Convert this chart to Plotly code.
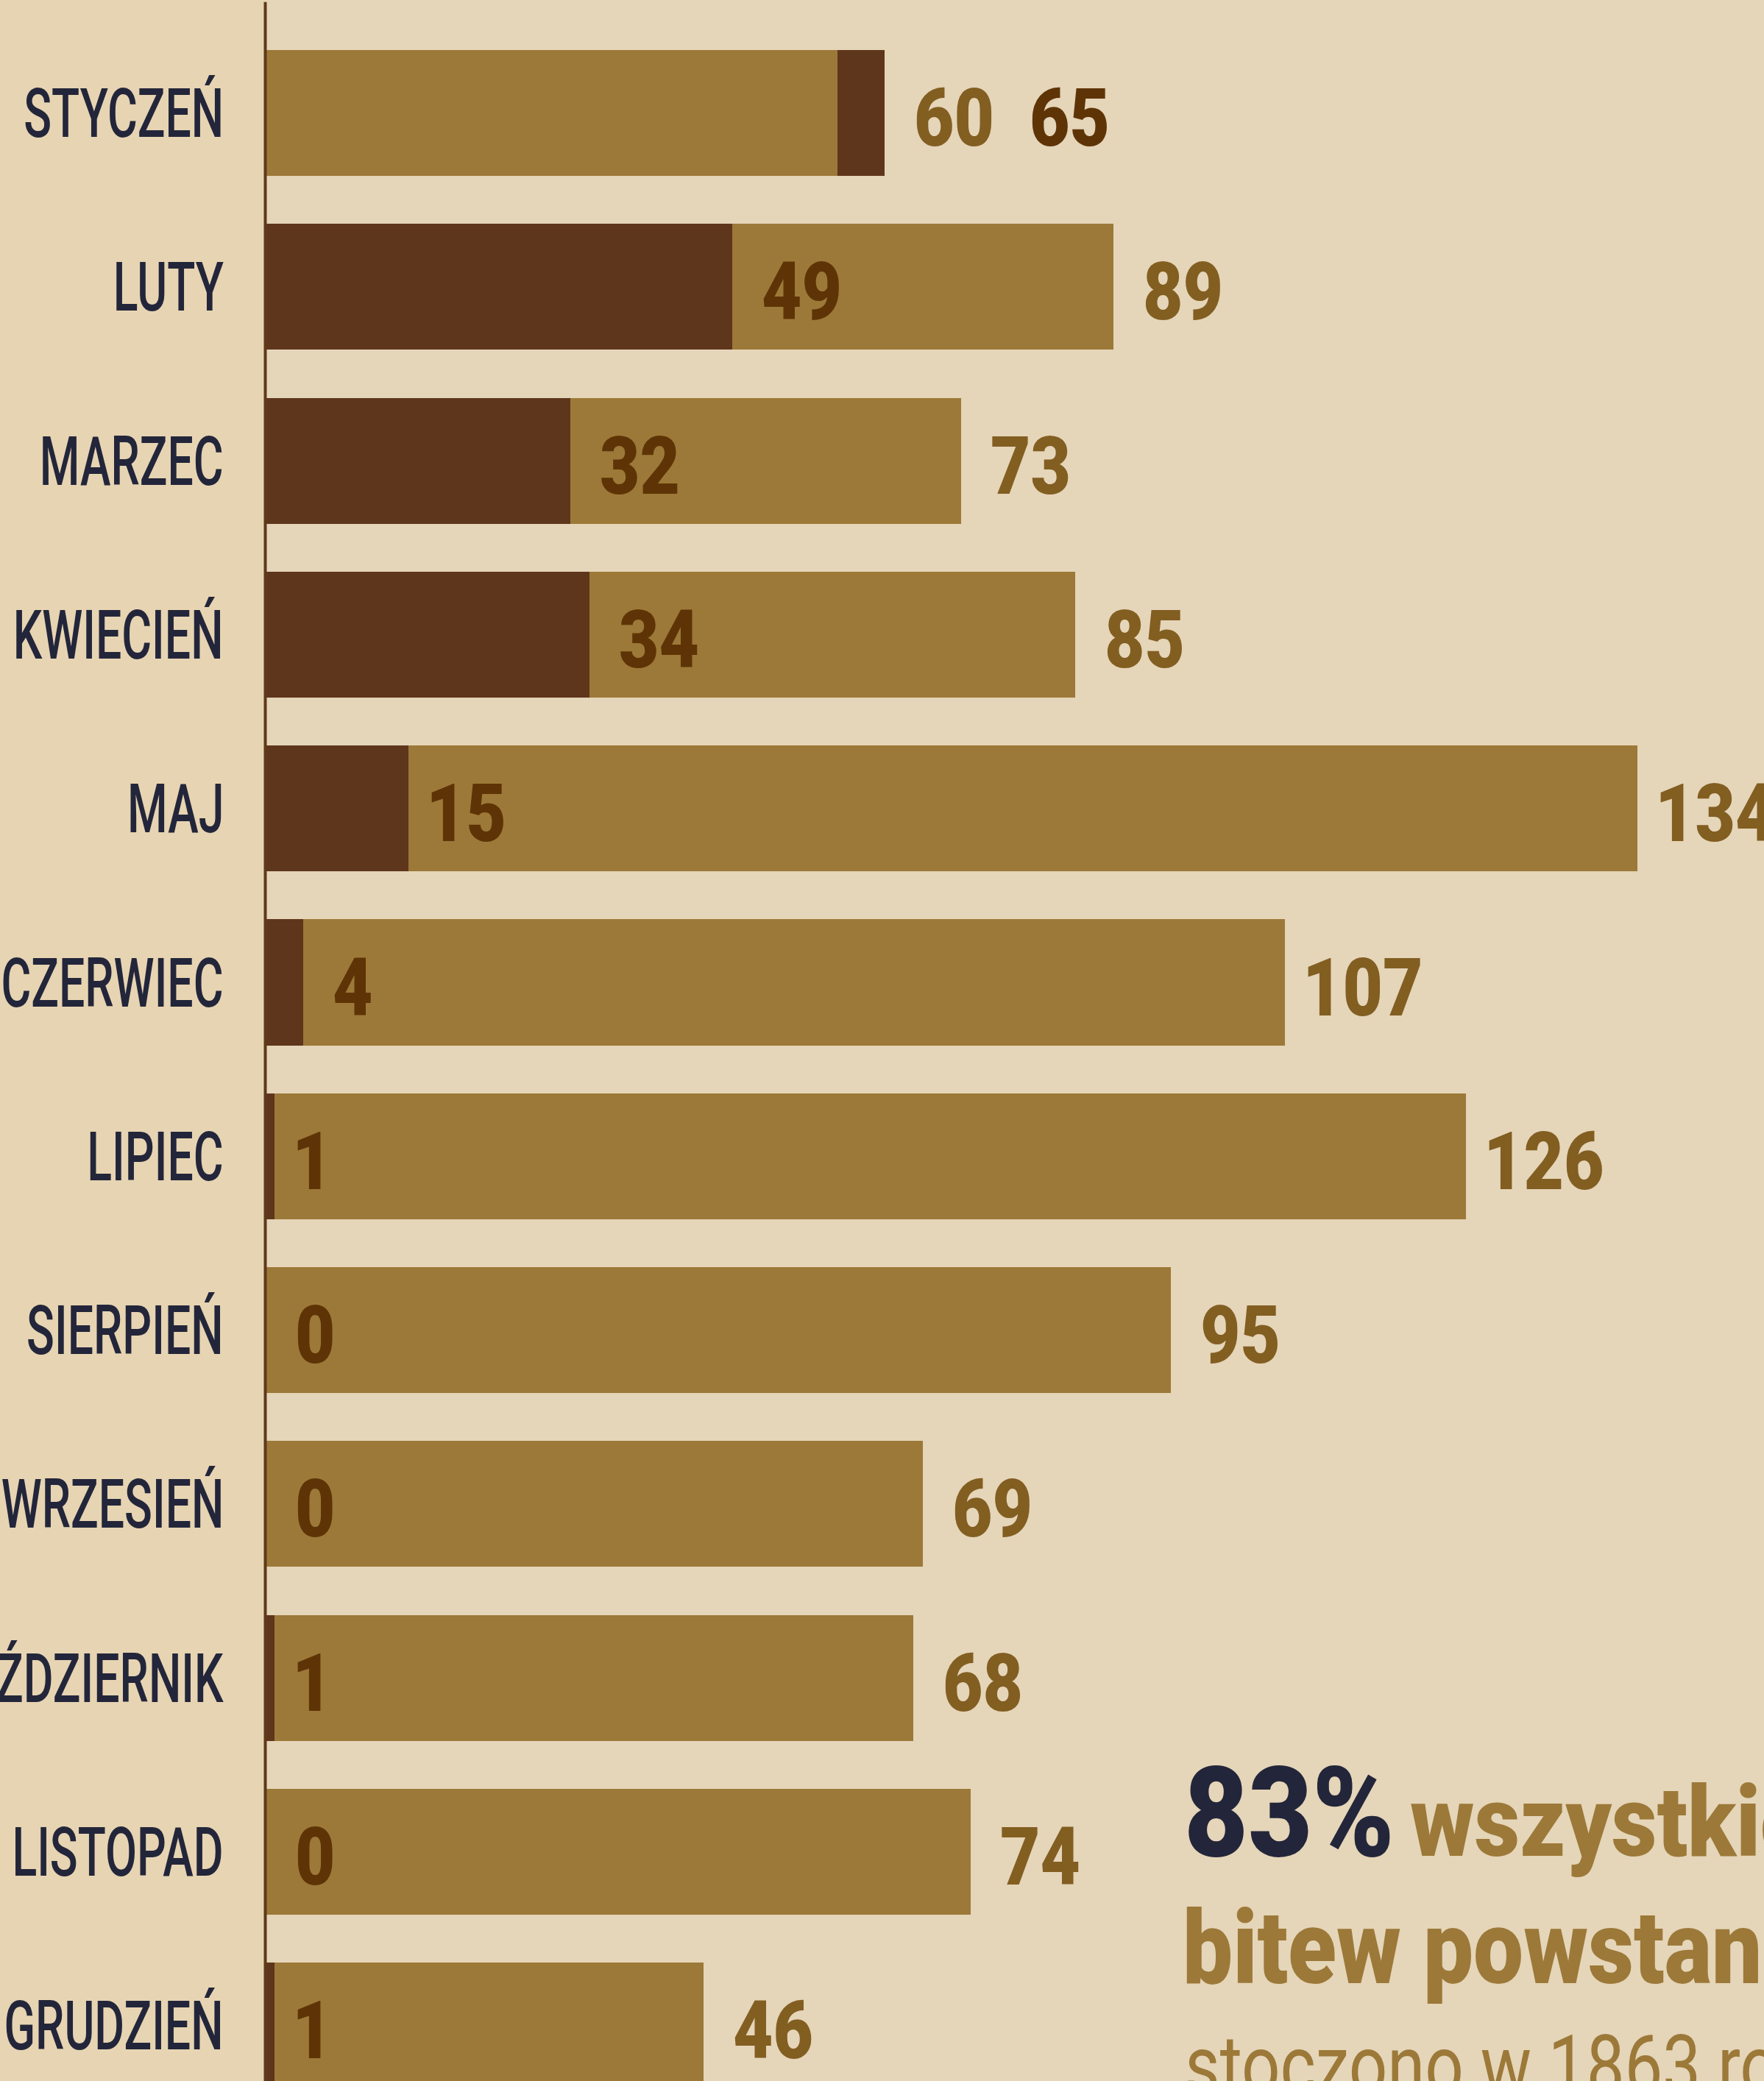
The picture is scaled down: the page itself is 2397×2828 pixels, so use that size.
import json
import plotly.graph_objects as go

# ---------------- data ----------------
months = ["STYCZEŃ", "LUTY", "MARZEC", "KWIECIEŃ", "MAJ", "CZERWIEC",
          "LIPIEC", "SIERPIEŃ", "WRZESIEŃ", "PAŹDZIERNIK", "LISTOPAD", "GRUDZIEŃ"]
# 1863 bar lengths as drawn in the reference (the May bar is drawn to ~144 although labelled 134)
bars_1863 = [60, 89, 73, 85, 144, 107, 126, 95, 69, 68, 74, 46]
labels_1863 = ["60", "89", "73", "85", "134", "107", "126", "95", "69", "68", "74", "46"]
values_1864 = [65, 49, 32, 34, 15, 4, 1, 0, 0, 1, 0, 1]
labels_1864 = [str(v) for v in values_1864]

# ---------------- style ----------------
W, H = 2397, 2828
BG = "#e5d5b9"
PANEL = "#e7d4b2"
LIGHT_BAR = "#9c7938"
DARK_BAR = "#5e361b"
LIGHT_TXT = "#825e21"
DARK_TXT = "#5e3406"
NAVY = "#23263a"
AXIS = "#5e3a1a"
FONT = "Roboto, 'Open Sans', 'DejaVu Sans', sans-serif"

PX_PER_UNIT = 12.95
AXIS_PX = 360.5
ROW0_PX = 153.5
PITCH_PX = 236.3
BAR_W = 0.724

x_range = [-AXIS_PX / PX_PER_UNIT, (W - AXIS_PX) / PX_PER_UNIT]
y_range = [(H - ROW0_PX) / PITCH_PX, -ROW0_PX / PITCH_PX]

# larger bar behind, smaller bar in front
back_x, back_c, front_x, front_c = [], [], [], []
for a, b in zip(bars_1863, values_1864):
    if a >= b:
        back_x.append(a); back_c.append(LIGHT_BAR)
        front_x.append(b); front_c.append(DARK_BAR)
    else:
        back_x.append(b); back_c.append(DARK_BAR)
        front_x.append(a); front_c.append(LIGHT_BAR)

fig = go.Figure()
fig.add_trace(go.Bar(x=back_x, y=months, orientation="h", width=BAR_W,
                     marker=dict(color=back_c, line=dict(width=0)),
                     hoverinfo="skip", showlegend=False))
fig.add_trace(go.Bar(x=front_x, y=months, orientation="h", width=BAR_W,
                     marker=dict(color=front_c, line=dict(width=0)),
                     hoverinfo="skip", showlegend=False))

annotations = []
month_idx, value_idx = [], []
VAL_SIZE = 110
GAP = 38
ref_value_idx = None


def gap_for(t):
    # Roboto's "1" has a wide left side-bearing; compensate a bit
    return GAP - 16 if t.startswith("1") else GAP


for m, a, la, b, lb in zip(months, bars_1863, labels_1863, values_1864, labels_1864):
    month_idx.append(len(annotations))
    annotations.append(dict(x=0, y=m, xref="x", yref="y", text=m, showarrow=False,
                            xanchor="right", yanchor="middle", xshift=-55, yshift=-1,
                            font=dict(family=FONT, size=92, color=NAVY, weight=500)))
    big, small = (a, b) if a >= b else (b, a)
    big_t, small_t = (la, lb) if a >= b else (lb, la)
    big_c, small_c = (LIGHT_TXT, DARK_TXT) if a >= b else (DARK_TXT, LIGHT_TXT)
    vfont = dict(family=FONT, size=VAL_SIZE, weight=900)
    if big - small >= 8:
        value_idx.append(len(annotations))
        annotations.append(dict(x=small, y=m, xref="x", yref="y", text=small_t,
                                showarrow=False, xanchor="left", yanchor="middle",
                                xshift=gap_for(small_t), yshift=-7, font=dict(vfont, color=small_c)))
        if big_t == "89":
            ref_value_idx = len(annotations)
        value_idx.append(len(annotations))
        annotations.append(dict(x=big, y=m, xref="x", yref="y", text=big_t,
                                showarrow=False, xanchor="left", yanchor="middle",
                                xshift=gap_for(big_t), yshift=-7, font=dict(vfont, color=big_c)))
    else:
        txt = (f"<span style='color:{small_c}'>{small_t}</span>\u2002"
               f"<span style='color:{big_c}'>{big_t}</span>")
        value_idx.append(len(annotations))
        annotations.append(dict(x=big, y=m, xref="x", yref="y", text=txt,
                                showarrow=False, xanchor="left", yanchor="middle",
                                xshift=gap_for(small_t), yshift=-7, font=dict(vfont, color=big_c)))


def px_x(p):
    return p / W


def px_y(p):
    return 1 - p / H


block = [
    ("83%", 1607, 2524, 170, NAVY, 900, None, 286),
    ("wszystkich", 1914, 2523, 133, LIGHT_BAR, 900, 7, 443),
    ("bitew powstania", 1605, 2696, 140, LIGHT_BAR, 900, 12, 719),
    ("stoczono w 1863 roku", 1608, 2847, 113, LIGHT_BAR, 400, 16, 724),
]
groups = [
    dict(idx=month_idx, ref=month_idx[0], sub=None, target=272, anchor="right"),
    dict(idx=value_idx, ref=ref_value_idx, sub=None, target=109, anchor="left"),
]
for text, x0, base, size, col, wt, sub, target in block:
    i = len(annotations)
    annotations.append(dict(x=px_x(x0), y=px_y(base + 0.244 * size + 1), xref="paper", yref="paper",
                            text=text, showarrow=False, xanchor="left", yanchor="bottom",
                            font=dict(family=FONT, size=size, color=col, weight=wt)))
    groups.append(dict(idx=[i], ref=i, sub=sub, target=target, anchor="left"))

fig.update_layout(
    width=W, height=H,
    margin=dict(l=0, r=0, t=0, b=0, pad=0),
    paper_bgcolor=BG, plot_bgcolor=BG,
    barmode="overlay", bargap=0,
    showlegend=False,
    annotations=annotations,
    shapes=[
        dict(type="rect", xref="paper", yref="paper", x0=0, x1=px_x(AXIS_PX), y0=0, y1=1,
             fillcolor=PANEL, line=dict(width=0), layer="below"),
        dict(type="line", xref="x", yref="paper", x0=0, x1=0, y0=0, y1=0.999,
             line=dict(color=AXIS, width=4), layer="above"),
    ],
    xaxis=dict(range=x_range, showgrid=False, zeroline=False, showticklabels=False,
               ticks="", fixedrange=True),
    yaxis=dict(range=y_range, showgrid=False, zeroline=False, showticklabels=False,
               ticks="", categoryorder="array", categoryarray=months, fixedrange=True),
)

js = """
document.body.style.margin='0';
document.body.style.background='%s';
(function(){
  var gd = document.getElementById('{plot_id}');
  var groups = %s;
  function fit(){
    var byIdx = {};
    gd.querySelectorAll('g.annotation').forEach(function(a){
      byIdx[a.getAttribute('data-index')] = a.querySelector('text');
    });
    groups.forEach(function(g){
      var t = byIdx[g.ref];
      if(!t) return;
      var w;
      try { w = g.sub ? t.getSubStringLength(0, g.sub) : t.getComputedTextLength(); }
      catch(e) { w = t.getComputedTextLength(); }
      if(!w) return;
      var s = g.target / w;
      g.idx.forEach(function(i){
        var el = byIdx[i];
        if(!el || el.getAttribute('data-fit')) return;
        var bb = el.getBBox();
        var cx = g.anchor === 'right' ? bb.x + bb.width : bb.x;
        var prev = el.getAttribute('transform') || '';
        el.setAttribute('transform', prev + ' translate(' + cx + ',0) scale(' + s + ',1) translate(' + (-cx) + ',0)');
        el.setAttribute('data-fit', '1');
      });
    });
  }
  fit();
  if (document.fonts && document.fonts.ready) {
    document.fonts.ready.then(function(){
      gd.querySelectorAll('[data-fit]').forEach(function(el){
        el.removeAttribute('data-fit'); el.removeAttribute('transform');
      });
      fit();
    });
  }
})();
""" % (BG, json.dumps(groups))

fig.write_html("out.html", post_script=js, config={"displayModeBar": False})
